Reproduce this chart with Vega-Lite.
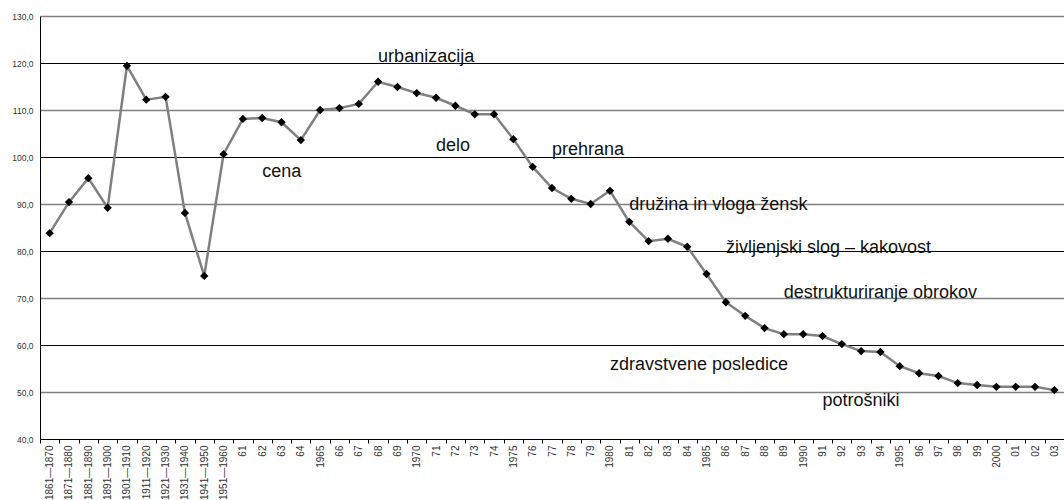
{
  "$schema": "https://vega.github.io/schema/vega-lite/v6.json",
  "autosize": {"type": "none"},
  "width": 1024,
  "height": 423,
  "padding": {"left": 40, "top": 16, "right": 0, "bottom": 61},
  "background": "white",
  "config": {
    "font": "Liberation Sans",
    "view": {"stroke": null}
  },
  "datasets": {
    "series": [
      {"p": "1861—1870", "v": 83.8},
      {"p": "1871—1880", "v": 90.4},
      {"p": "1881—1890", "v": 95.5},
      {"p": "1891—1900", "v": 89.2},
      {"p": "1901—1910", "v": 119.4},
      {"p": "1911—1920", "v": 112.2},
      {"p": "1921—1930", "v": 112.8},
      {"p": "1931—1940", "v": 88.1},
      {"p": "1941—1950", "v": 74.7},
      {"p": "1951—1960", "v": 100.6},
      {"p": "61", "v": 108.1},
      {"p": "62", "v": 108.3},
      {"p": "63", "v": 107.4},
      {"p": "64", "v": 103.6},
      {"p": "1965", "v": 110.0},
      {"p": "66", "v": 110.4},
      {"p": "67", "v": 111.3},
      {"p": "68", "v": 116.0},
      {"p": "69", "v": 114.9},
      {"p": "1970", "v": 113.6},
      {"p": "71", "v": 112.6},
      {"p": "72", "v": 110.9},
      {"p": "73", "v": 109.1},
      {"p": "74", "v": 109.1},
      {"p": "1975", "v": 103.8},
      {"p": "76", "v": 97.9},
      {"p": "77", "v": 93.4},
      {"p": "78", "v": 91.1},
      {"p": "79", "v": 90.0},
      {"p": "1980", "v": 92.8},
      {"p": "81", "v": 86.2},
      {"p": "82", "v": 82.1},
      {"p": "83", "v": 82.6},
      {"p": "84", "v": 80.9},
      {"p": "1985", "v": 75.1},
      {"p": "86", "v": 69.1},
      {"p": "87", "v": 66.2},
      {"p": "88", "v": 63.6},
      {"p": "89", "v": 62.3},
      {"p": "1990", "v": 62.3},
      {"p": "91", "v": 61.9},
      {"p": "92", "v": 60.2},
      {"p": "93", "v": 58.7},
      {"p": "94", "v": 58.5},
      {"p": "1995", "v": 55.5},
      {"p": "96", "v": 54.0},
      {"p": "97", "v": 53.4},
      {"p": "98", "v": 51.9},
      {"p": "99", "v": 51.5},
      {"p": "2000", "v": 51.1},
      {"p": "01", "v": 51.1},
      {"p": "02", "v": 51.1},
      {"p": "03", "v": 50.4}
    ],
    "notes": [
      {"p": "68", "v": 120.2, "t": "urbanizacija"},
      {"p": "62", "v": 95.8, "t": "cena"},
      {"p": "71", "v": 101.3, "t": "delo"},
      {"p": "77", "v": 100.4, "t": "prehrana"},
      {"p": "81", "v": 88.7, "t": "družina in vloga žensk"},
      {"p": "86", "v": 79.6, "t": "življenjski slog – kakovost"},
      {"p": "89", "v": 70.0, "t": "destrukturiranje obrokov"},
      {"p": "1980", "v": 54.7, "t": "zdravstvene posledice"},
      {"p": "91", "v": 47.0, "t": "potrošniki"}
    ]
  },
  "encoding": {
    "x": {
      "field": "p",
      "type": "ordinal",
      "title": null,
      "scale": {
        "type": "band",
        "paddingInner": 0,
        "paddingOuter": 0,
        "domain": ["1861—1870","1871—1880","1881—1890","1891—1900","1901—1910","1911—1920","1921—1930","1931—1940","1941—1950","1951—1960","61","62","63","64","1965","66","67","68","69","1970","71","72","73","74","1975","76","77","78","79","1980","81","82","83","84","1985","86","87","88","89","1990","91","92","93","94","1995","96","97","98","99","2000","01","02","03"]
      },
      "axis": {
        "labelAngle": 270,
        "labelAlign": "right",
        "labelBaseline": "middle",
        "labelFontSize": 10,
        "labelColor": "#333333",
        "labelPadding": 2,
        "tickBand": "extent",
        "tickSize": 4,
        "tickColor": "black",
        "domainColor": "black",
        "labelOverlap": false,
        "labelBound": false,
        "grid": false
      }
    },
    "y": {
      "field": "v",
      "type": "quantitative",
      "title": null,
      "scale": {"domain": [40, 130], "nice": false, "zero": false},
      "axis": {
        "values": [40, 50, 60, 70, 80, 90, 100, 110, 120, 130],
        "labelExpr": "replace(format(datum.value, '.1f'), '.', ',')",
        "labelFontSize": 8.5,
        "labelColor": "#333333",
        "labelPadding": 7,
        "ticks": false,
        "domainColor": "black",
        "grid": true,
        "gridColor": {"condition": {"test": "datum.value % 20 == 10", "value": "#808080"}, "value": "black"},
        "gridWidth": {"condition": {"test": "datum.value % 20 == 10", "value": 1.6}, "value": 1},
        "gridOpacity": 1
      }
    }
  },
  "layer": [
    {
      "data": {"name": "series"},
      "mark": {"type": "line", "color": "#808080", "strokeWidth": 2.5}
    },
    {
      "data": {"name": "series"},
      "mark": {"type": "point", "shape": "diamond", "filled": true, "color": "black", "size": 70, "opacity": 1}
    },
    {
      "data": {"name": "notes"},
      "mark": {"type": "text", "align": "left", "baseline": "alphabetic", "fontSize": 18, "color": "#111111"},
      "encoding": {"text": {"field": "t"}}
    }
  ]
}
